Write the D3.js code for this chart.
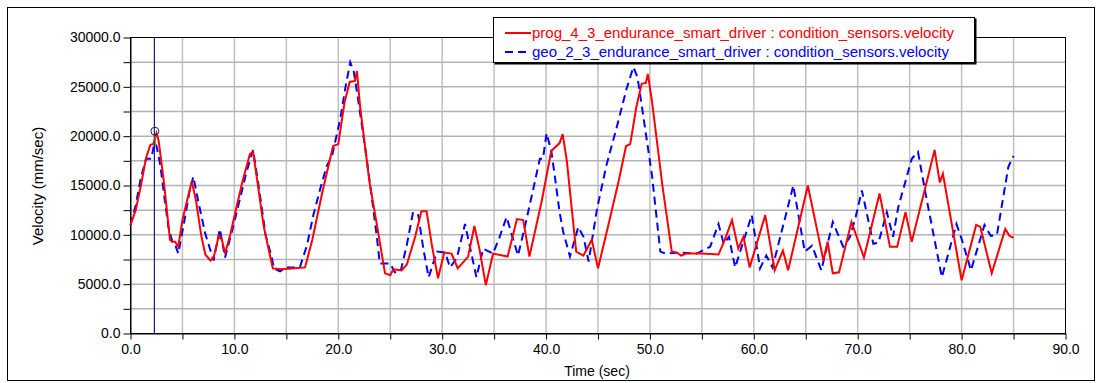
<!DOCTYPE html>
<html>
<head>
<meta charset="utf-8">
<script src="https://cdn.jsdelivr.net/npm/d3@7"></script>
<style>
  body { margin: 0; background: #fff; }
  svg { display: block; }
</style>
</head>
<body>
<svg id="chart" width="1101" height="383"></svg>
<script>
// series: time (sec) / velocity (mm/sec)
var redTime = [0, 0.5, 1.0, 1.5, 1.9, 2.2, 2.5, 2.7, 3.2, 3.8, 4.0, 4.3, 4.6, 5.0, 5.5, 5.9, 6.3, 6.8, 7.2, 7.7,
  8.0, 8.5, 8.8, 9.1, 9.6, 10.2, 10.8, 11.5, 11.8, 12.2, 12.8, 13.3, 13.7, 14.5, 15.5, 16.8, 17.5, 18.5, 19.5, 20.0,
  20.6, 21.1, 21.6, 21.8, 22.1, 23.0, 23.8, 24.5, 25.0, 25.3, 26.1, 26.6, 27.4, 28.0, 28.5, 29.0, 29.6, 30.2, 30.9, 31.5,
  32.5, 33.1, 33.6, 34.2, 34.9, 36.3, 37.2, 37.8, 38.4, 39.6, 40.5, 41.3, 41.6, 42.0, 42.9, 43.6, 44.4, 45.0, 46.0, 47.0,
  47.7, 48.1, 48.7, 49.2, 49.6, 49.8, 50.2, 51.2, 52.1, 52.6, 53.0, 53.5, 55.0, 56.6, 57.2, 57.9, 58.5, 59.0, 59.6, 61.1,
  62.0, 62.8, 63.3, 65.2, 66.7, 67.1, 67.6, 68.2, 69.4, 70.6, 72.1, 73.1, 73.8, 74.6, 75.2, 76.6, 77.4, 77.9, 78.2, 80.0,
  81.4, 81.8, 82.9, 84.2, 84.6, 85.0];
var redVel = [11000, 12500, 15000, 17800, 19100, 19200, 20300, 19600, 15500, 9500, 9300, 9300, 8800, 11500, 13700, 15400, 13500, 10000, 8000, 7400,
  7700, 9900, 9500, 8100, 10000, 12800, 15500, 18200, 18400, 15500, 11000, 8500, 6600, 6500, 6600, 6700, 9500, 14500, 19000, 19200,
  23400, 25500, 25600, 26600, 23000, 15400, 10500, 6100, 5900, 6500, 6400, 7000, 9800, 12400, 12400, 9000, 5600, 8200, 8100, 6600,
  7800, 10900, 8500, 4900, 8100, 7800, 11600, 11500, 7800, 13500, 18500, 19300, 20200, 17500, 8300, 7900, 9500, 6600, 11000, 15500,
  19000, 19200, 23000, 25300, 25400, 26300, 23500, 15000, 8300, 8200, 7900, 8100, 8100, 8000, 9500, 11500, 8600, 9800, 6700, 12000,
  6400, 8400, 6400, 15000, 7400, 9300, 6100, 6200, 11300, 7700, 14200, 8800, 8800, 12300, 9300, 15200, 18600, 15300, 16200, 5400,
  11000, 10800, 6100, 10600, 9900, 9700];

var blueTime = [0, 0.5, 1.0, 1.5, 2.0, 2.3, 2.5, 2.85, 3.3, 3.65, 4.0, 4.3, 4.6, 5.2, 5.7, 6.05, 6.5, 7.2, 8.0, 8.6,
  9.1, 9.8, 10.5, 11.2, 11.8, 12.4, 13.0, 13.6, 13.8, 14.4, 15.0, 16.3, 17.0, 17.6, 18.3, 18.9, 19.4, 20.2, 20.7, 21.15,
  21.5, 21.9, 22.7, 23.2, 23.7, 24.0, 25.0, 25.45, 26.0, 26.6, 27.2, 27.7, 28.2, 28.7, 29.5, 30.3, 30.75, 31.4, 32.2, 33.3,
  33.95, 34.9, 35.5, 36.2, 37.3, 38.0, 38.8, 39.4, 39.7, 40.05, 40.5, 40.85, 41.3, 41.65, 42.3, 43.1, 43.6, 44.1, 44.9, 45.8,
  46.8, 47.75, 48.4, 48.8, 49.35, 50.2, 51.0, 51.5, 53.0, 54.5, 55.8, 56.6, 57.1, 57.6, 58.2, 59.8, 60.6, 61.2, 61.8, 63.8,
  64.9, 65.6, 66.5, 67.6, 68.6, 69.25, 69.8, 70.4, 71.5, 72.0, 72.8, 73.4, 73.9, 75.2, 75.8, 76.6, 78.1, 79.5, 80.0, 80.9,
  82.2, 82.8, 83.4, 84.5, 85.0];
var blueVel = [11000, 13000, 15800, 17700, 17700, 19300, 19000, 17200, 13500, 10800, 9400, 9000, 8100, 11500, 14500, 15900, 13500, 10100, 7400, 10600,
  7700, 10500, 13500, 16500, 18600, 14500, 10000, 7700, 6600, 6300, 6700, 6700, 9000, 12000, 14800, 17000, 18000, 21800, 25000, 27500,
  26500, 23800, 18000, 14000, 9900, 7100, 7100, 6200, 6300, 9000, 12300, 12000, 8500, 5700, 8300, 8200, 6700, 7600, 11100, 5700,
  8600, 8100, 9700, 11800, 7900, 11000, 14800, 17700, 17700, 20300, 18500, 15900, 12300, 10300, 7800, 10800, 9800, 7300, 12600, 17000,
  20900, 24800, 27000, 26000, 22100, 16000, 8300, 8100, 8200, 8100, 8800, 11100, 9100, 9800, 6700, 12000, 6600, 7900, 6700, 15000,
  8300, 8900, 6400, 11300, 8800, 9780, 11800, 14500, 9100, 9200, 12300, 9800, 12800, 17700, 18400, 13800, 5700, 11100, 9600, 6400,
  11000, 9900, 10000, 16900, 18000];

var seriesNames = ["prog_4_3_endurance_smart_driver : condition_sensors.velocity",
                   "geo_2_3_endurance_smart_driver : condition_sensors.velocity"];
var xTicks = d3.range(0, 90.1, 5);      // labelled every 10
var yTicks = d3.range(0, 30001, 2500);  // labelled every 5000
var cursorTime = 2.3;
var cursorVel = 20500;

var svg = d3.select("#chart");

// outer frame
svg.append("rect")
    .attr("x", 7.5).attr("y", 7.5)
    .attr("width", 1087).attr("height", 373)
    .attr("fill", "#fff").attr("stroke", "#000");

var x = d3.scaleLinear().domain([0, 90]).range([130.5, 1065.5]);
var y = d3.scaleLinear().domain([0, 30000]).range([333.5, 37.5]);

// grid
svg.append("g").selectAll("line").data(xTicks.slice(1, -1)).enter().append("line")
    .attr("x1", function(d){ return x(d); }).attr("x2", function(d){ return x(d); })
    .attr("y1", y(30000)).attr("y2", y(0))
    .attr("stroke", "#c0c0c0").attr("stroke-width", 1.5);
svg.append("g").selectAll("line").data(yTicks.slice(1, -1)).enter().append("line")
    .attr("x1", x(0)).attr("x2", x(90))
    .attr("y1", function(d){ return y(d); }).attr("y2", function(d){ return y(d); })
    .attr("stroke", "#b4b4b4").attr("stroke-width", 1.5);

// plot frame
svg.append("rect")
    .attr("x", x(0)).attr("y", y(30000))
    .attr("width", x(90) - x(0)).attr("height", y(0) - y(30000))
    .attr("fill", "none").attr("stroke", "#000");

// axes
var xAxis = d3.axisBottom(x).tickValues(xTicks).tickSizeInner(6).tickSizeOuter(0).tickPadding(5)
    .tickFormat(function(d){ return d % 10 === 0 ? d.toFixed(1) : ""; });
var yAxis = d3.axisLeft(y).tickValues(yTicks).tickSizeInner(7).tickSizeOuter(0).tickPadding(3)
    .tickFormat(function(d){ return d % 5000 === 0 ? d.toFixed(1) : ""; });

var gx = svg.append("g").attr("transform", "translate(0," + y(0) + ")").call(xAxis);
var gy = svg.append("g").attr("transform", "translate(" + x(0) + ",0)").call(yAxis);
[gx, gy].forEach(function(g){
    g.selectAll("text").attr("font-family", "'Liberation Sans', Arial, sans-serif").attr("font-size", 14).attr("fill", "#000");
    g.selectAll("line, path").attr("stroke", "#000");
});

// axis titles
svg.append("text")
    .attr("x", 597).attr("y", 376)
    .attr("text-anchor", "middle")
    .attr("font-family", "'Liberation Sans', Arial, sans-serif").attr("font-size", 14)
    .text("Time (sec)");
svg.append("text")
    .attr("transform", "translate(43,186) rotate(-90)")
    .attr("text-anchor", "middle")
    .attr("font-family", "'Liberation Sans', Arial, sans-serif").attr("font-size", 15)
    .text("Velocity (mm/sec)");

// cursor
svg.append("line")
    .attr("x1", x(cursorTime)).attr("x2", x(cursorTime))
    .attr("y1", y(30000)).attr("y2", y(0))
    .attr("stroke", "#1c1c7a").attr("stroke-width", 1.2);

var redData = redTime.map(function(t, i){ return [t, redVel[i]]; });
var blueData = blueTime.map(function(t, i){ return [t, blueVel[i]]; });

var line = d3.line()
    .x(function(d){ return x(d[0]); })
    .y(function(d){ return y(d[1]); });

svg.append("path")
    .datum(blueData)
    .attr("d", line)
    .attr("fill", "none")
    .attr("stroke", "#0000ff")
    .attr("stroke-width", 2)
    .attr("stroke-dasharray", "8,5");

svg.append("path")
    .datum(redData)
    .attr("d", line)
    .attr("fill", "none")
    .attr("stroke", "#ff0000")
    .attr("stroke-width", 2);

// cursor marker
svg.append("line")
    .attr("x1", x(cursorTime) + 1).attr("x2", x(cursorTime) + 1)
    .attr("y1", y(19000)).attr("y2", y(20000))
    .attr("stroke", "#22aa44").attr("stroke-width", 1);
svg.append("circle")
    .attr("cx", x(cursorTime) + 0.5).attr("cy", y(cursorVel))
    .attr("r", 4)
    .attr("fill", "none").attr("stroke", "#1c1c7a").attr("stroke-width", 1);

// legend
var legend = svg.append("g").attr("transform", "translate(493,17)");
legend.append("rect")
    .attr("x", 1.5).attr("y", 1.5).attr("width", 482).attr("height", 46)
    .attr("fill", "#000");
legend.append("rect")
    .attr("x", 0.5).attr("y", 0.5).attr("width", 481).attr("height", 45)
    .attr("fill", "#fff").attr("stroke", "#000");
var legendColors = ["#ff0000", "#0000ff"];
seriesNames.forEach(function(name, i){
    var yy = 16 + i * 19;
    legend.append("line")
        .attr("x1", 12).attr("x2", 38).attr("y1", yy).attr("y2", yy)
        .attr("stroke", legendColors[i]).attr("stroke-width", 2)
        .attr("stroke-dasharray", i === 1 ? "8,5" : null);
    legend.append("text")
        .attr("x", 39).attr("y", yy + 5)
        .attr("font-family", "'Liberation Sans', Arial, sans-serif").attr("font-size", 15)
        .attr("fill", legendColors[i])
        .text(name);
});
</script>
</body>
</html>
